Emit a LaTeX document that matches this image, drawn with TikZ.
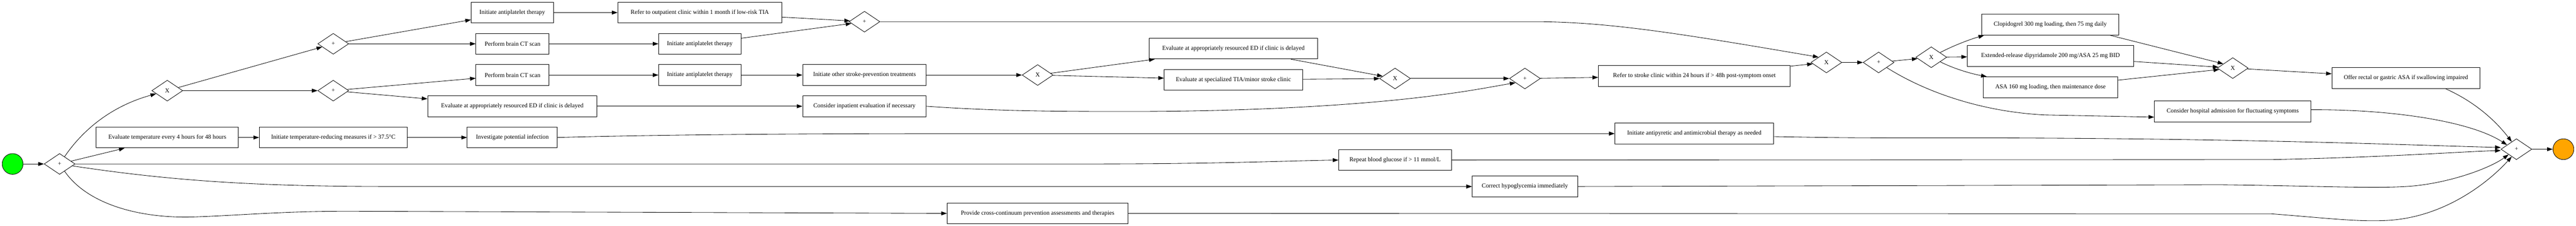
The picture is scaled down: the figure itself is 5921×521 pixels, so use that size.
\documentclass[tikz,border=0pt]{standalone}
\usepackage{fontspec}
\setmainfont{Liberation Serif}
\usetikzlibrary{shapes.geometric,arrows.meta,calc}
\begin{document}
\begin{tikzpicture}[x=1pt,y=-1pt,
  task/.style={draw, line width=1.1pt, fill=white, minimum height=48pt, inner xsep=3pt, inner ysep=0pt, font=\fontsize{14}{16}\selectfont, align=center},
  gw/.style={diamond, draw, line width=1pt, fill=white, minimum width=71pt, minimum height=48pt, inner sep=0pt, font=\fontsize{14}{16}\selectfont},
  ev/.style={circle, draw, line width=1pt, minimum size=48pt, inner sep=0pt},
  flow/.style={line width=1pt, -{Triangle[length=13pt,width=9pt]}}]
\useasboundingbox (0,0) rectangle (5921,521);
% events
\node[ev, fill={rgb,255:red,0;green,255;blue,0}] (start) at (29,378) {};
\node[ev, fill={rgb,255:red,255;green,165;blue,0}] (endev) at (5892,344) {};
% gateways
\node[gw] (g1) at (137,378) {+};
\node[gw] (gA) at (384.5,209) {X};
\node[gw] (gB) at (766,101) {+};
\node[gw] (gC) at (766,209) {+};
\node[gw] (gD) at (1987,50) {+};
\node[gw] (gE) at (2385,173) {X};
\node[gw] (gF) at (3206.5,181) {X};
\node[gw] (gG) at (3505,181) {+};
\node[gw] (gH) at (4198,144) {X};
\node[gw] (gI) at (4318,144) {+};
\node[gw] (gJ) at (4439,132) {X};
\node[gw] (gK) at (5132,157) {X};
\node[gw] (gEnd) at (5784,344) {+};
% tasks
\node[task, minimum width=327pt] (tet) at (384.5,317) {Evaluate temperature every 4 hours for 48 hours};
\node[task, minimum width=340pt] (t5) at (766,317) {Initiate temperature-reducing measures if > 37.5°C};
\node[task, minimum width=207pt] (t6) at (1177.5,317) {Investigate potential infection};
\node[task, minimum width=189pt] (t1) at (1177.5,29) {Initiate antiplatelet therapy};
\node[task, minimum width=168pt] (t2) at (1178,101) {Perform brain CT scan};
\node[task, minimum width=168pt] (t3) at (1178,173) {Perform brain CT scan};
\node[task, minimum width=389pt] (t4) at (1177.5,245) {Evaluate at appropriately resourced ED if clinic is delayed};
\node[task, minimum width=377pt] (t7) at (1608.5,29) {Refer to outpatient clinic within 1 month if low-risk TIA};
\node[task, minimum width=189pt] (t8) at (1608.5,101) {Initiate antiplatelet therapy};
\node[task, minimum width=189pt] (t9) at (1608.5,173) {Initiate antiplatelet therapy};
\node[task, minimum width=284pt] (t10) at (1987,173) {Initiate other stroke-prevention treatments};
\node[task, minimum width=284pt] (t11) at (1987,245) {Consider inpatient evaluation if necessary};
\node[task, minimum width=388pt] (t12) at (2835,112) {Evaluate at appropriately resourced ED if clinic is delayed};
\node[task, minimum width=318pt] (t13) at (2835,184) {Evaluate at specialized TIA/minor stroke clinic};
\node[task, minimum width=416pt] (t14) at (2385,492) {Provide cross-continuum prevention assessments and therapies};
\node[task, minimum width=259pt] (t15) at (3206.5,369) {Repeat blood glucose if > 11 mmol/L};
\node[task, minimum width=441pt] (t16) at (3894.5,175) {Refer to stroke clinic within 24 hours if > 48h post-symptom onset};
\node[task, minimum width=365pt] (t17) at (3894.5,308) {Initiate antipyretic and antimicrobial therapy as needed};
\node[task, minimum width=242pt] (t18) at (3505,430) {Correct hypoglycemia immediately};
\node[task, minimum width=315pt] (t19) at (4712.5,57) {Clopidogrel 300 mg loading, then 75 mg daily};
\node[task, minimum width=382pt] (t20) at (4713,129) {Extended-release dipyridamole 200 mg/ASA 25 mg BID};
\node[task, minimum width=308pt] (t21) at (4713,201) {ASA 160 mg loading, then maintenance dose};
\node[task, minimum width=360pt] (t22) at (5132,257) {Consider hospital admission for fluctuating symptoms};
\node[task, minimum width=340pt] (t23) at (5530,180) {Offer rectal or gastric ASA if swallowing impaired};
% flows
\draw[flow] (start) -- (g1);
\draw[flow] (g1) .. controls (190,300) and (255,245) .. (gA);
\draw[flow] (g1) -- ($(tet.south west)+(66,0)$);
\draw[flow] (g1) -- (2500,378) .. controls (2800,378) and (2950,371) .. (t15.west);
\draw[flow] (g1) .. controls (400,418) and (600,430) .. (900,430) -- (t18.west);
\draw[flow] (g1) .. controls (200,470) and (320,505) .. (450,500) .. controls (560,496) and (650,487) .. (800,487) -- (t14.west);
\draw[flow] (gA) -- (gB);
\draw[flow] (gA) -- (gC);
\draw[flow] (gB) -- (t1);
\draw[flow] (gB) -- (t2);
\draw[flow] (gC) -- (t3);
\draw[flow] (gC) -- (t4);
\draw[flow] (tet) -- (t5);
\draw[flow] (t5) -- (t6);
\draw[flow] (t6.east) .. controls (1500,311) and (1800,308) .. (2200,308) -- (t17.west);
\draw[flow] (t1) -- (t7);
\draw[flow] (t2) -- (t8);
\draw[flow] (t3) -- (t9);
\draw[flow] (t9) -- (t10);
\draw[flow] (t4) -- (t11);
\draw[flow] (t7) -- (gD);
\draw[flow] (t8) -- (gD);
\draw[flow] (t10) -- (gE);
\draw[flow] (gE) -- (t12);
\draw[flow] (gE) -- (t13);
\draw[flow] (t12) -- (gF);
\draw[flow] (t13) -- (gF);
\draw[flow] (gF) -- (gG);
\draw[flow] (t11.east) .. controls (2300,257) and (2450,257) .. (2600,257) .. controls (2900,257) and (3150,240) .. (3300,220) .. controls (3380,210) and (3440,198) .. ($(gG.west)!0.4!(gG.south)$);
\draw[flow] (gG) -- (t16);
\draw[flow] (gD) -- (3540,50) .. controls (3700,52) and (3850,75) .. ($(gH.west)!0.5!(gH.north)$);
\draw[flow] (t16) -- (gH);
\draw[flow] (gH) -- (gI);
\draw[flow] (gI) -- (gJ);
\draw[flow] (gI) .. controls (4430,215) and (4560,258) .. (4700,265) -- ($(t22.west)+(0,13)$);
\draw[flow] (gJ) .. controls (4490,105) and (4530,90) .. ($(t19.south west)+(6,0)$);
\draw[flow] (gJ) -- (t20);
\draw[flow] (gJ) .. controls (4490,158) and (4530,170) .. ($(t21.north west)+(8,0)$);
\draw[flow] ($(t19.south east)+(-20,0)$) -- ($(gK.west)!0.4!(gK.north)$);
\draw[flow] (t20) -- (gK);
\draw[flow] (t21) -- (gK);
\draw[flow] (gK) -- (t23);
\draw[flow] ($(t23.south)+(91,0)$) .. controls (5700,240) and (5745,290) .. ($(gEnd.north)!0.3!(gEnd.west)$);
\draw[flow] ($(t22.east)+(0,-4)$) .. controls (5500,252) and (5680,280) .. ($(gEnd.west)!0.4!(gEnd.north)$);
\draw[flow] ($(t17.east)+(0,7)$) .. controls (4250,318) .. (4600,318) .. controls (5200,320) and (5550,335) .. ($(gEnd.west)+(0,-4)$);
\draw[flow] (t15.east) -- (5221,368) .. controls (5500,362) and (5650,350) .. ($(gEnd.west)+(0,3)$);
\draw[flow] (t18.east) -- (5100,426) .. controls (5300,428) and (5450,435) .. (5530,430) .. controls (5620,425) and (5720,390) .. ($(gEnd.west)!0.5!(gEnd.south)$);
\draw[flow] (t14.east) -- (5221,493) .. controls (5350,503) and (5420,512) .. (5490,508) .. controls (5620,500) and (5720,420) .. ($(gEnd.south)!0.3!(gEnd.west)$);
\draw[flow] (gEnd) -- (endev);
\end{tikzpicture}
\end{document}
